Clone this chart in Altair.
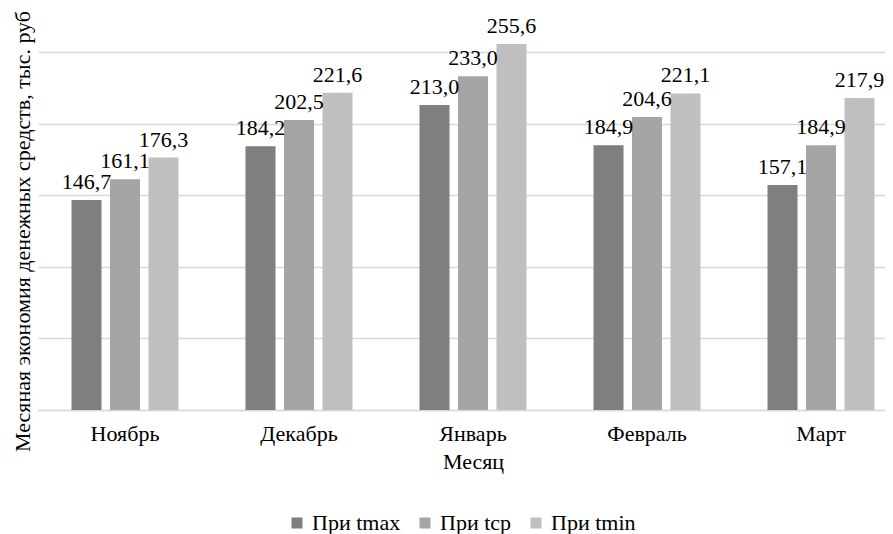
import altair as alt
import pandas as pd

months = ["Ноябрь", "Декабрь", "Январь", "Февраль", "Март"]
series = ["При tmax", "При tcp", "При tmin"]
t_max = [146.7, 184.2, 213.0, 184.9, 157.1]
t_cp = [161.1, 202.5, 233.0, 204.6, 184.9]
t_min = [176.3, 221.6, 255.6, 221.1, 217.9]
colors = ["#7f7f7f", "#a5a5a5", "#bfbfbf"]
grid_values = [0, 50, 100, 150, 200, 250]

rows = []
for s, vals in zip(series, [t_max, t_cp, t_min]):
    for m, v in zip(months, vals):
        rows.append({"Месяц": m, "Серия": s, "Значение": v})
df = pd.DataFrame(rows)

FONT = "Liberation Serif"
FS = 22

base = alt.Chart(df).encode(
    x=alt.X(
        "Месяц:N",
        sort=months,
        title="Месяц",
        scale=alt.Scale(range=[0, 870], paddingInner=0.385, paddingOuter=0.1925),
        axis=alt.Axis(
            labelAngle=0,
            labelFont=FONT,
            labelFontSize=FS,
            labelColor="#000000",
            labelPadding=13,
            titleFont=FONT,
            titleFontSize=FS,
            titleFontWeight="normal",
            titleColor="#000000",
            titlePadding=7,
            ticks=False,
            domainColor="#d9d9d9",
            domainWidth=1.5,
            grid=False,
        ),
    ),
    xOffset=alt.XOffset(
        "Серия:N",
        sort=series,
        scale=alt.Scale(paddingInner=0.22, paddingOuter=0),
    ),
    y=alt.Y(
        "Значение:Q",
        title="Месяная экономия денежных средств, тыс. руб",
        scale=alt.Scale(domain=[0, 250], nice=False),
        axis=alt.Axis(
            values=grid_values,
            labels=False,
            ticks=False,
            domain=False,
            gridColor="#d9d9d9",
            gridWidth=1.5,
            titleFont=FONT,
            titleFontSize=FS,
            titleFontWeight="normal",
            titleColor="#000000",
            titlePadding=4,
        ),
    ),
)

bars = base.mark_bar().encode(
    color=alt.Color(
        "Серия:N",
        sort=series,
        scale=alt.Scale(domain=series, range=colors),
        legend=alt.Legend(
            title=None,
            orient="none",
            legendX=248,
            legendY=460,
            direction="horizontal",
            columns=3,
            padding=0,
            symbolType="square",
            symbolSize=121,
            symbolStrokeWidth=0,
            labelFont=FONT,
            labelFontSize=FS,
            labelColor="#000000",
            labelOffset=4,
            columnPadding=13,
        ),
    )
)

labels = base.mark_text(
    font=FONT, fontSize=FS, color="#000000", baseline="alphabetic", dy=-11
).transform_calculate(
    lbl="replace(format(datum['Значение'], '.1f'), '.', ',')"
).encode(text="lbl:N")

chart = (
    alt.layer(bars, labels)
    .properties(
        width=847,
        height=358,
        autosize=alt.AutoSizeParams(type="none"),
        padding={"left": 30, "top": 44, "right": 0, "bottom": 126},
    )
    .configure(font=FONT)
    .configure_view(stroke=None)
)

chart.save("out.html", embed_options={"renderer": "svg", "actions": False})
